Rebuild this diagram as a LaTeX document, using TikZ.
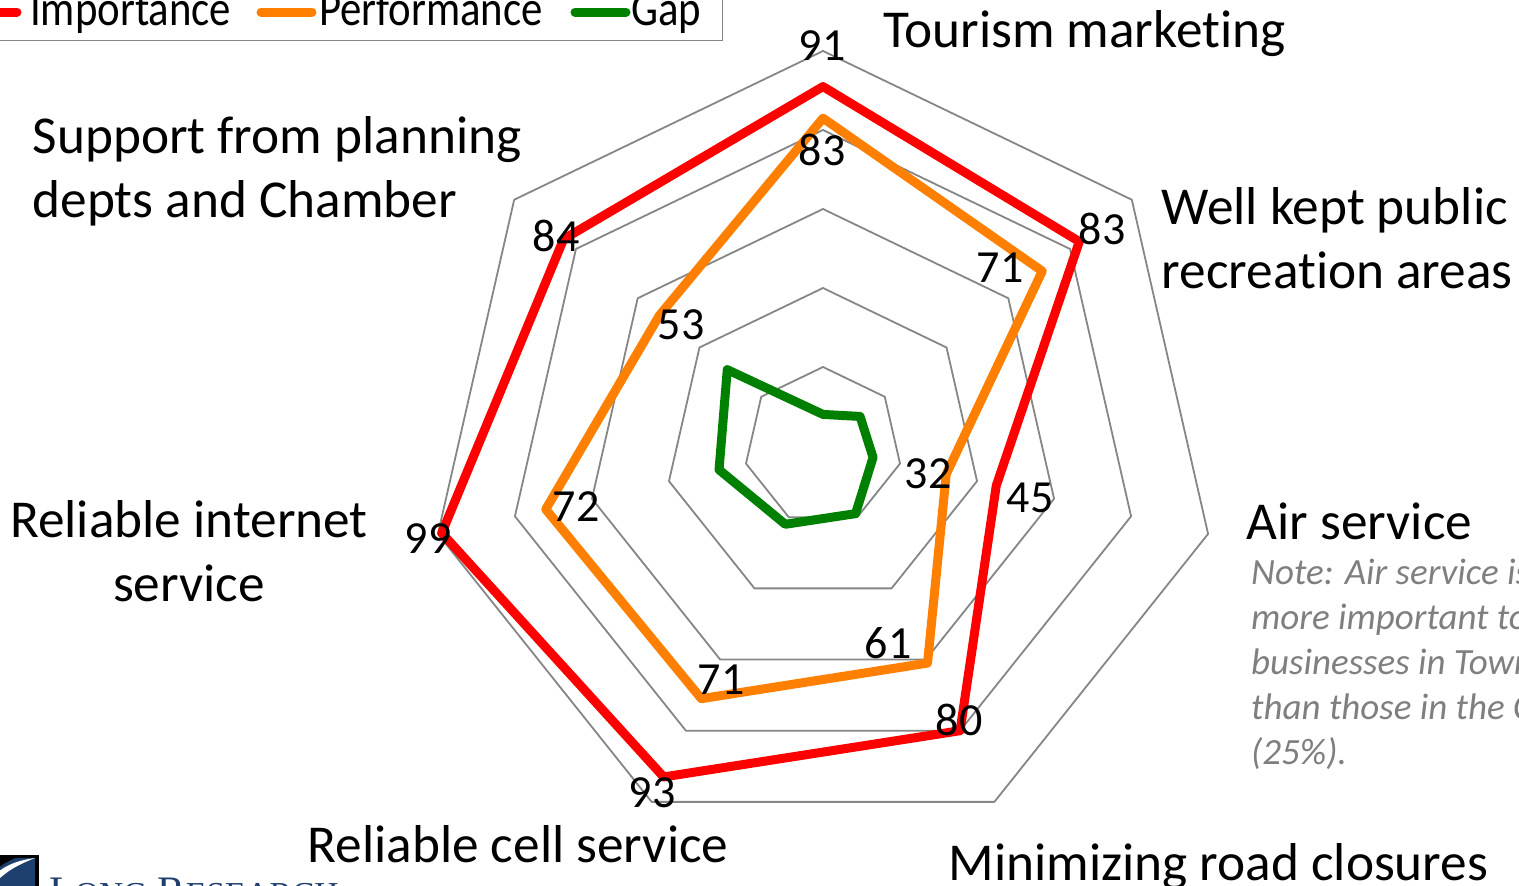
\documentclass[tikz,border=0pt]{standalone}
\usepackage{fontspec}
\setmainfont{Carlito}[Ligatures=NoCommon]
\newfontfamily\logofont{Liberation Serif}
\definecolor{ringgray}{HTML}{868686}
\definecolor{imp}{HTML}{FF0000}
\definecolor{perf}{HTML}{FF8000}
\definecolor{gapc}{HTML}{008000}
\definecolor{notegray}{HTML}{7F7F7F}
\definecolor{logoblue}{HTML}{1F3F6F}
\tikzset{
  ring/.style={draw=ringgray,line width=1.8pt,line join=round},
  series/.style={line width=9pt,line join=round,line cap=round},
  serieskey/.style={line width=9pt,line cap=round},
  val/.style={font=\fontsize{46}{46}\selectfont,inner sep=0pt,text=black},
  cat/.style={font=\fontsize{53.3}{64}\selectfont,inner sep=0pt,text=black,anchor=north west,align=left},
  note/.style={font=\fontsize{37}{45}\selectfont\itshape,inner sep=0pt,text=notegray,anchor=north west,align=left},
  legtext/.style={font=\fontsize{46}{46}\selectfont,inner sep=0pt,text=black,anchor=base west,xscale=0.93,yscale=1.08},
}
\newcommand{\rp}[2]{({823+3.95*(#1)*sin((#2)*360/7)},{446-3.95*(#1)*cos((#2)*360/7)})}
\begin{document}
\begin{tikzpicture}[x=1pt,y=-1pt]
\useasboundingbox (0,0) rectangle (1519,886);
\clip (0,0) rectangle (1519,886);
% grid
\foreach \r in {20,40,60,80,100}{
  \draw[ring] \rp{\r}{0} -- \rp{\r}{1} -- \rp{\r}{2} -- \rp{\r}{3} -- \rp{\r}{4} -- \rp{\r}{5} -- \rp{\r}{6} -- cycle;
}
% series
\draw[series,gapc] \rp{8}{0} -- \rp{12}{1} -- \rp{13}{2} -- \rp{19}{3} -- \rp{22}{4} -- \rp{27}{5} -- \rp{31}{6} -- cycle;
\draw[series,perf] \rp{83}{0} -- \rp{71}{1} -- \rp{32}{2} -- \rp{61}{3} -- \rp{71}{4} -- \rp{72}{5} -- \rp{53}{6} -- cycle;
\draw[series,imp] \rp{91}{0} -- \rp{83}{1} -- \rp{45}{2} -- \rp{80}{3} -- \rp{93}{4} -- \rp{99}{5} -- \rp{84}{6} -- cycle;
% importance labels
\node[val] (i1) at (822,46) {91};
\node[val] (i2) at (1102,229) {83};
\node[val] (i3) at (1030,498) {45};
\node[val] (i4) at (959,720) {80};
\node[val] (i5) at (652,793) {93};
\node[val] (i6) at (428,539) {99};
\node[val] (i7) at (556,236) {84};
% performance labels
\node[val] (p1) at (822,150) {83};
\node[val] (p2) at (1000,268) {71};
\node[val] (p3) at (928,474) {32};
\node[val] (p4) at (888,643) {61};
\node[val] (p5) at (721,680) {71};
\node[val] (p6) at (576,507) {72};
\node[val] (p7) at (681,325) {53};
% categories
\node[cat] (c1) at (883,10) {Tourism marketing};
\node[cat] (c2) at (1161.5,187) {Well kept public\\recreation areas};
\node[cat] (c3) at (1246.5,503) {Air service};
\node[note] (n3) at (1251,559) {Note: Air service is\\more important to\\businesses in Town\\than those in the County\\(25\%).};
\node[cat] (c4) at (948.5,843) {Minimizing road closures};
\node[cat] (c5) at (307.5,825) {Reliable cell service};
\node[cat,align=center] (c6) at (10,500) {Reliable internet\\service};
\node[cat] (c7) at (32.5,116) {Support from planning\\depts and Chamber};
% legend
\draw[ringgray,line width=1.8pt] (-5,40.5) -- (722.5,40.5) -- (722.5,-5);
\coordinate (k1a) at (-20,12); \coordinate (k1b) at (17,12);
\draw[serieskey,imp] (k1a) -- (k1b);
\draw[serieskey,perf] (261,12) -- (312,12);
\draw[serieskey,gapc] (575,12) -- (626,12);
\node[legtext] (l1) at (30,25) {Importance};
\node[legtext] (l2) at (319,25) {Performance};
\node[legtext] (l3) at (631,25) {Gap};
% logo
\fill[black] (-2,855) rectangle (39,886);
\fill[logoblue] (-2,858) rectangle (35,886);
\fill[white] (-2,872) .. controls (8,864) and (20,860) .. (35,858) .. controls (20,864) and (8,870) .. (-2,880) -- cycle;
\fill[black] (-2,856) -- (20,856) .. controls (10,860) and (3,864) .. (-2,868) -- cycle;
\node[font=\fontsize{42}{42}\selectfont\logofont,text=logoblue,anchor=base west,inner sep=0pt] (logo) at (49,905.5) {L{\fontsize{33.5}{33.5}\selectfont ONG} R{\fontsize{33.5}{33.5}\selectfont ESEARCH}};
\end{tikzpicture}
\end{document}
